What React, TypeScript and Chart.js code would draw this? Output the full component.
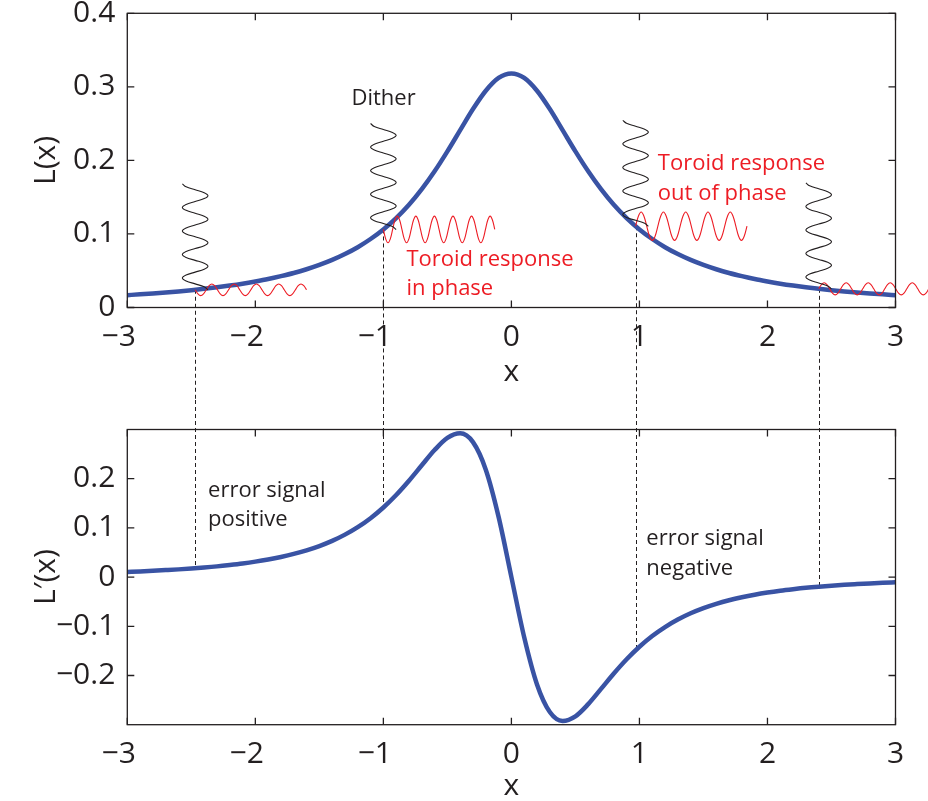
import React, { useEffect, useRef } from 'react';
import { Chart, registerables } from 'chart.js';

Chart.register(...registerables);

// ---- curve data ----
const xValues = [
  -3.0, -2.9, -2.8, -2.7, -2.6, -2.5, -2.4, -2.3, -2.2, -2.1,
  -2.0, -1.9, -1.8, -1.7, -1.6, -1.5, -1.4, -1.3, -1.2, -1.1,
  -1.0, -0.9, -0.8, -0.7, -0.6, -0.5, -0.4, -0.3, -0.2, -0.1,
  0.0,
  0.1, 0.2, 0.3, 0.4, 0.5, 0.6, 0.7, 0.8, 0.9, 1.0,
  1.1, 1.2, 1.3, 1.4, 1.5, 1.6, 1.7, 1.8, 1.9, 2.0,
  2.1, 2.2, 2.3, 2.4, 2.5, 2.6, 2.7, 2.8, 2.9, 3.0,
];
const lValues = [
  0.0168, 0.0179, 0.0191, 0.0204, 0.0219, 0.0236, 0.0254, 0.0275, 0.0298, 0.0324,
  0.0354, 0.0387, 0.0426, 0.0469, 0.0520, 0.0579, 0.0647, 0.0727, 0.0820, 0.0931,
  0.1061, 0.1215, 0.1396, 0.1608, 0.1851, 0.2122, 0.2411, 0.2698, 0.2947, 0.3121,
  0.3183,
  0.3121, 0.2947, 0.2698, 0.2411, 0.2122, 0.1851, 0.1608, 0.1396, 0.1215, 0.1061,
  0.0931, 0.0820, 0.0727, 0.0647, 0.0579, 0.0520, 0.0469, 0.0426, 0.0387, 0.0354,
  0.0324, 0.0298, 0.0275, 0.0254, 0.0236, 0.0219, 0.0204, 0.0191, 0.0179, 0.0168,
];
const dlValues = [
  0.0106, 0.0116, 0.0128, 0.0142, 0.0157, 0.0175, 0.0195, 0.0218, 0.0246, 0.0277,
  0.0314, 0.0358, 0.0410, 0.0471, 0.0544, 0.0631, 0.0736, 0.0863, 0.1015, 0.1197,
  0.1415, 0.1669, 0.1959, 0.2273, 0.2582, 0.2829, 0.2923, 0.2743, 0.2183, 0.1224,
  0,
  -0.1224, -0.2183, -0.2743, -0.2923, -0.2829, -0.2582, -0.2273, -0.1959, -0.1669, -0.1415,
  -0.1197, -0.1015, -0.0863, -0.0736, -0.0631, -0.0544, -0.0471, -0.0410, -0.0358, -0.0314,
  -0.0277, -0.0246, -0.0218, -0.0195, -0.0175, -0.0157, -0.0142, -0.0128, -0.0116, -0.0106,
];

// ---- dither illustration (positions) ----
const ditherX = [-2.47, -1.0, 0.97, 2.4];
const ditherL = [0.0241, 0.1061, 0.1105, 0.0254];
const ditherDL = [0.018, 0.1415, -0.1487, -0.0195];
const ditherAmp = 0.1; // horizontal swing of the black dither (x units)
const ditherEighth = 0.004; // eighth of a period of the black dither (y units)
const ditherSteps = 36;
const responseAmp = [0.0079, 0.0181, 0.0193, 0.0082];
const responseCycles = [5, 6, 5, 5];
const responseLength = [0.87, 0.87, 0.87, 0.86];
const responseSign = [-1, -1, 1, 1];

// ---- annotations ----
const topText = ['Dither', 'Toroid response', 'in phase', 'Toroid response', 'out of phase'];
const topTextX = [-1.249, -0.82, -0.82, 1.144, 1.144];
const topTextY = [0.2753, 0.0564, 0.017, 0.187, 0.146];
const topTextRed = [false, true, true, true, true];
const botText = ['error signal', 'positive', 'error signal', 'negative'];
const botTextX = [-2.369, -2.369, 1.054, 1.054];
const botTextY = [0.163, 0.104, 0.065, 0.004];
const botTextRed = [false, false, false, false];

const INK = '#231f20';
const RED = '#ed1c24';
const BLUE = '#3953a4';
const FONT = "'Open Sans', sans-serif";

// one period of a wave, sampled at eighths
const WAVE = [0, 0.7071, 1, 0.7071, 0, -0.7071, -1, -0.7071];

function ditherPoints(i: number) {
  const pts: { x: number; y: number }[] = [];
  for (let k = 0; k <= ditherSteps; k++) {
    const p = WAVE[(k + 2) % 8];
    pts.push({ x: ditherX[i] + ditherAmp * p, y: ditherL[i] + k * ditherEighth });
  }
  return pts;
}

function responsePoints(i: number) {
  const n = responseCycles[i] * 8;
  const q = responseLength[i] / n;
  const pts: { x: number; y: number }[] = [];
  for (let k = 0; k <= n; k++) {
    pts.push({ x: ditherX[i] + k * q, y: ditherL[i] + responseSign[i] * responseAmp[i] * WAVE[k % 8] });
  }
  return pts.reverse();
}

function fmt(v: number) {
  if (Math.abs(v) < 1e-9) return '0';
  const s = Math.abs(v).toFixed(1);
  return v < 0 ? '\u2212' + s : s;
}

function makeOverlay(dashVals: number[], toBottom: boolean, texts: string[], tx: number[], ty: number[], red: boolean[]) {
  return {
    id: 'overlay',
    beforeDatasetsDraw(chart: any) {
      const { ctx } = chart;
      const xs = chart.scales.x;
      const ys = chart.scales.y;
      ctx.save();
      ctx.strokeStyle = INK;
      ctx.lineWidth = 1;
      ctx.setLineDash([4, 3]);
      ditherX.forEach((dx, i) => {
        const px = Math.round(xs.getPixelForValue(dx)) + 0.5;
        const py = ys.getPixelForValue(dashVals[i]);
        ctx.beginPath();
        if (toBottom) {
          ctx.moveTo(px, py);
          ctx.lineTo(px, chart.height);
        } else {
          ctx.moveTo(px, 0);
          ctx.lineTo(px, py);
        }
        ctx.stroke();
      });
      ctx.restore();
    },
    afterDatasetsDraw(chart: any) {
      const { ctx, chartArea: a } = chart;
      const xs = chart.scales.x;
      const ys = chart.scales.y;
      ctx.save();
      ctx.strokeStyle = INK;
      ctx.lineWidth = 1.3;
      ctx.setLineDash([]);
      ctx.strokeRect(a.left, a.top, a.right - a.left, a.bottom - a.top);
      ctx.beginPath();
      xs.ticks.forEach((t: any) => {
        const p = xs.getPixelForValue(t.value);
        ctx.moveTo(p, a.bottom);
        ctx.lineTo(p, a.bottom - 7);
        ctx.moveTo(p, a.top);
        ctx.lineTo(p, a.top + 7);
      });
      ys.ticks.forEach((t: any) => {
        const p = ys.getPixelForValue(t.value);
        ctx.moveTo(a.left, p);
        ctx.lineTo(a.left + 7, p);
        ctx.moveTo(a.right, p);
        ctx.lineTo(a.right - 7, p);
      });
      ctx.stroke();

      ctx.font = `30px ${FONT}`;
      ctx.fillStyle = INK;
      ctx.textAlign = 'left';
      ctx.textBaseline = 'alphabetic';
      const mw = ctx.measureText('\u2212').width;
      xs.ticks.forEach((t: any) => {
        const v = t.value;
        const s = String(Math.abs(Math.round(v)));
        const w = ctx.measureText(s).width;
        const p = xs.getPixelForValue(v);
        if (v < -1e-9) ctx.fillText('\u2212' + s, p - w / 2 - mw, a.bottom + 38);
        else ctx.fillText(s, p - w / 2, a.bottom + 38);
      });

      ctx.font = `22px ${FONT}`;
      texts.forEach((s, i) => {
        ctx.fillStyle = red[i] ? RED : INK;
        ctx.fillText(s, xs.getPixelForValue(tx[i]), ys.getPixelForValue(ty[i]));
      });
      ctx.restore();
    },
  };
}

function wiggleDatasets() {
  const ds: any[] = [];
  ditherX.forEach((_, i) => {
    ds.push({
      data: ditherPoints(i),
      borderColor: INK,
      borderWidth: 1.1,
      tension: 0.4,
      pointRadius: 0,
      order: 0,
    });
    ds.push({
      data: responsePoints(i),
      borderColor: RED,
      borderWidth: 1.1,
      tension: 0.4,
      pointRadius: 0,
      order: 0,
      clip: false,
    });
  });
  return ds;
}

function baseOptions(opts: any) {
  const tickFont = { family: FONT, size: 30 };
  return {
    animation: false,
    responsive: false,
    devicePixelRatio: 1,
    layout: { padding: { top: opts.padTop, right: 32.5, left: 0, bottom: 0 } },
    plugins: { legend: { display: false }, tooltip: { enabled: false } },
    elements: { point: { radius: 0 }, line: { capBezierPoints: false } },
    scales: {
      x: {
        type: 'linear',
        min: -3,
        max: 3,
        ticks: { stepSize: 1, display: false },
        grid: { display: false, drawTicks: false },
        border: { display: false },
        title: {
          display: true,
          text: 'x',
          color: INK,
          font: tickFont,
          padding: { top: 0, bottom: opts.xTitlePad },
        },
        afterFit: (s: any) => {
          s.height = opts.xAxisHeight;
          s.paddingLeft = 0;
          s.paddingRight = 0;
        },
      },
      y: {
        type: 'linear',
        min: opts.yMin,
        max: opts.yMax,
        afterBuildTicks: (s: any) => {
          s.ticks = s.ticks.filter((t: any) => t.value >= opts.tickMin - 1e-9 && t.value <= opts.tickMax + 1e-9);
        },
        ticks: {
          stepSize: 0.1,
          color: INK,
          font: tickFont,
          padding: 12,
          callback: (v: any) => fmt(Number(v)),
        },
        grid: { display: false, drawTicks: false },
        border: { display: false },
        title: {
          display: true,
          text: opts.yTitle,
          color: INK,
          font: tickFont,
          padding: { top: 28, bottom: 0 },
        },
        afterFit: (s: any) => {
          s.width = 127.3;
          s.paddingTop = 0;
          s.paddingBottom = 0;
        },
      },
    },
  };
}

export default function App() {
  const topRef = useRef<HTMLCanvasElement>(null);
  const botRef = useRef<HTMLCanvasElement>(null);

  useEffect(() => {
    const topChart = new Chart(topRef.current as HTMLCanvasElement, {
      type: 'line',
      data: {
        datasets: [
          ...wiggleDatasets(),
          {
            data: xValues.map((x, i) => ({ x, y: lValues[i] })),
            borderColor: BLUE,
            borderWidth: 4.5,
            cubicInterpolationMode: 'monotone',
            pointRadius: 0,
            order: 10,
          },
        ],
      },
      options: baseOptions({
        padTop: 13.3,
        xAxisHeight: 92.5,
        xTitlePad: 10,
        yMin: 0,
        yMax: 0.4,
        tickMin: 0,
        tickMax: 0.4,
        yTitle: 'L(x)',
      }) as any,
      plugins: [makeOverlay(ditherL, true, topText, topTextX, topTextY, topTextRed)],
    });

    const botChart = new Chart(botRef.current as HTMLCanvasElement, {
      type: 'line',
      data: {
        datasets: [
          {
            data: xValues.map((x, i) => ({ x, y: dlValues[i] })),
            borderColor: BLUE,
            borderWidth: 4.5,
            cubicInterpolationMode: 'monotone',
            pointRadius: 0,
            order: 10,
          },
        ],
      },
      options: baseOptions({
        padTop: 29.5,
        xAxisHeight: 76.3,
        xTitlePad: -3,
        yMin: -0.3,
        yMax: 0.3,
        tickMin: -0.2,
        tickMax: 0.2,
        yTitle: 'L\u2032(x)',
      }) as any,
      plugins: [makeOverlay(ditherDL, false, botText, botTextX, botTextY, botTextRed)],
    });

    return () => {
      topChart.destroy();
      botChart.destroy();
    };
  }, []);

  return (
    <div style={{ position: 'absolute', left: 0, top: 0, width: 928, height: 801, background: '#fff' }}>
      <canvas ref={topRef} width={928} height={400} style={{ display: 'block' }} />
      <canvas ref={botRef} width={928} height={401} style={{ display: 'block' }} />
    </div>
  );
}
